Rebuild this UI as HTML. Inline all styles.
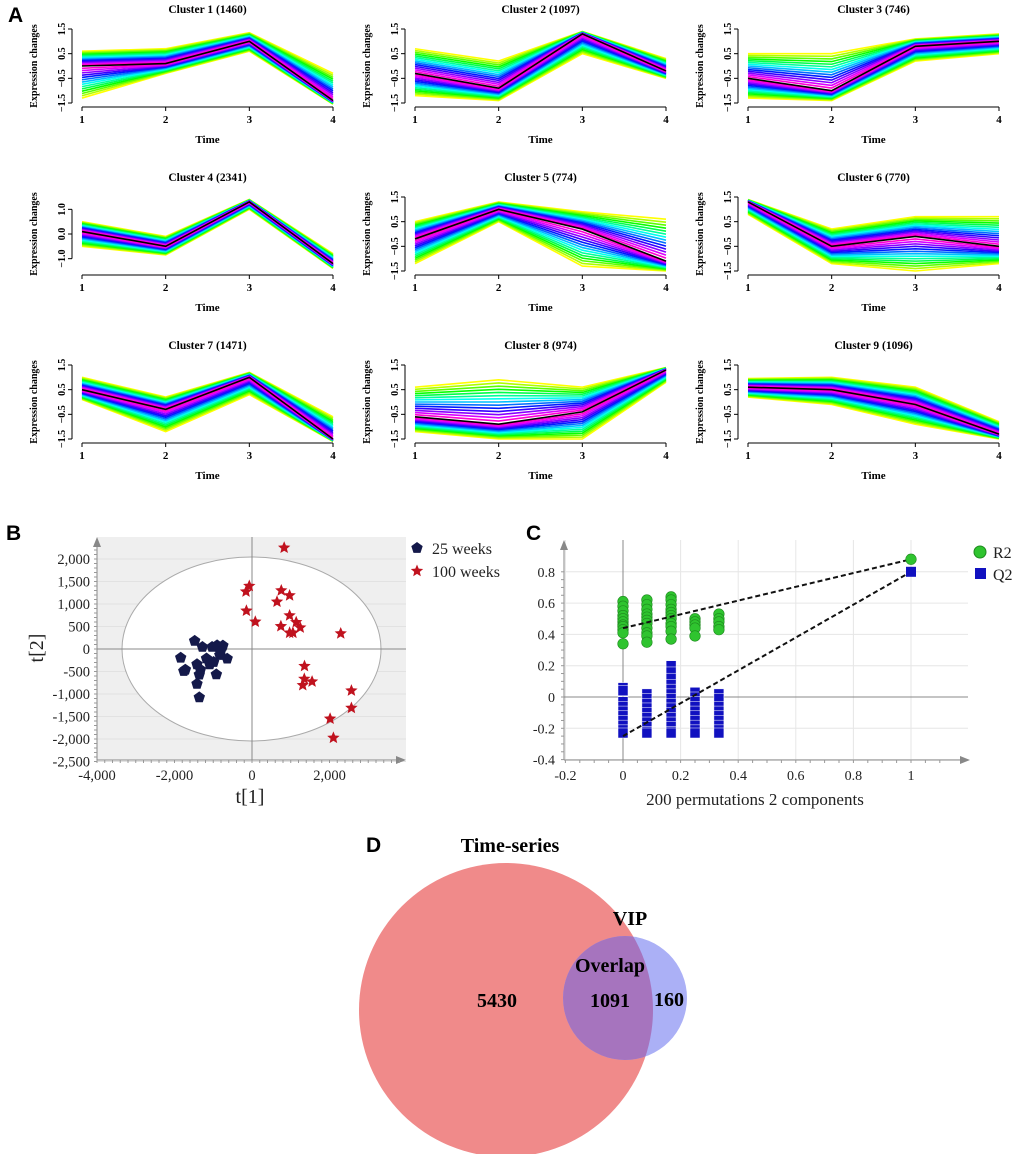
<!DOCTYPE html>
<html><head><meta charset="utf-8"><style>
body{margin:0;background:#fff}
svg{display:block;font-family:"Liberation Serif",serif}
.lab{font-family:"Liberation Sans",sans-serif;font-weight:bold;font-size:21px}
</style></head><body>
<svg id="fig" width="1020" height="1154" viewBox="0 0 1020 1154" xmlns="http://www.w3.org/2000/svg">
<text class="lab" x="8" y="22">A</text>
<text class="lab" x="6" y="540">B</text>
<text class="lab" x="526" y="540">C</text>
<text class="lab" x="366" y="852">D</text>
<g id="pa"></g>
<g id="pb"></g>
<g id="pc"></g>
<g id="pd">
<defs><clipPath id="bigc"><circle cx="506" cy="1010" r="147"/></clipPath></defs>
<circle cx="506" cy="1010" r="147" fill="#f08a8a"/>
<circle cx="625" cy="998" r="62" fill="#abb0f6"/>
<circle cx="625" cy="998" r="62" fill="#a674be" clip-path="url(#bigc)"/>
<g font-weight="bold" font-size="20" text-anchor="middle">
<text x="510" y="852">Time-series</text>
<text x="630" y="925">VIP</text>
<text x="610" y="972">Overlap</text>
<text x="497" y="1007">5430</text>
<text x="610" y="1007">1091</text>
<text x="669" y="1006">160</text>
</g></g>
</svg>
<script>
const NS="http://www.w3.org/2000/svg";
function mk(p,t,a){const e=document.createElementNS(NS,t);for(const k in a)e.setAttribute(k,a[k]);p.appendChild(e);return e;}
// ---------- Panel A data ----------
const clusterTitles=["Cluster 1 (1460)","Cluster 2 (1097)","Cluster 3 (746)","Cluster 4 (2341)","Cluster 5 (774)","Cluster 6 (770)","Cluster 7 (1471)","Cluster 8 (974)","Cluster 9 (1096)"];
const clusterCenter=[[0,0.1,1.0,-1.4],[-0.3,-0.9,1.3,-0.2],[-0.5,-1.0,0.8,1.0],[0.1,-0.5,1.3,-1.2],[-0.2,1.0,0.2,-1.1],[1.3,-0.5,-0.1,-0.5],[0.5,-0.3,1.0,-1.5],[-0.6,-0.9,-0.4,1.3],[0.6,0.5,-0.1,-1.3]];
const clusterUpper=[[0.6,0.7,1.35,-0.3],[0.7,0.2,1.4,0.3],[0.5,0.5,1.1,1.3],[0.5,-0.1,1.4,-0.8],[0.5,1.3,0.9,0.6],[1.4,0.2,0.7,0.7],[1.0,0.2,1.2,-0.6],[0.6,0.9,0.6,1.4],[0.95,1.0,0.6,-0.8]];
const clusterLower=[[-1.3,-0.3,0.6,-1.55],[-1.2,-1.4,0.5,-0.5],[-1.3,-1.4,0.2,0.5],[-0.5,-0.85,1.0,-1.4],[-1.2,0.5,-1.3,-1.5],[0.8,-1.2,-1.5,-1.2],[0.1,-1.2,0.3,-1.6],[-1.2,-1.5,-1.5,0.8],[0.2,-0.1,-0.9,-1.5]];
const timeTicks=[1,2,3,4];
const yTicksStd=[1.5,0.5,-0.5,-1.5];
const yTicksC4=[1.0,0.0,-1.0];
const pa=document.getElementById('pa');
clusterTitles.forEach((title,i)=>{
  const c=i%3,r=Math.floor(i/3);
  const x1=82+c*333,x4=x1+251,yt=29+r*168,yb=103+r*168;
  const X=t=>x1+(t-1)*(x4-x1)/3;
  const Y=v=>yt+(1.5-v)*(yb-yt)/3;
  const g=mk(pa,'g',{});
  
  
  const tt=mk(g,'text',{x:(x1+x4)/2,y:yt-16,'text-anchor':'middle','font-weight':'bold','font-size':'11.5'});
  tt.textContent=title;
  
  
  const N=14;
  const sides=[clusterUpper[i],clusterLower[i]];
  for(let k=N;k>=1;k--){
    const f=k/N;
    const hue=60+(1-f)*270;
    sides.forEach(s=>{
      const pts=timeTicks.map((t,j)=>X(t)+','+Y(clusterCenter[i][j]+f*(s[j]-clusterCenter[i][j]))).join(' ');
      const pl=mk(g,'polyline',{points:pts,fill:'none',stroke:'hsl('+hue+',100%,50%)','stroke-width':'1.6'});
      
      
    });
  }
  const cl=mk(g,'polyline',{points:timeTicks.map((t,j)=>X(t)+','+Y(clusterCenter[i][j])).join(' '),fill:'none',stroke:'#000','stroke-width':'1.6'});
  
  
  // axes
  const ya=x1-10;
  const ticks=i===3?yTicksC4:yTicksStd;
  const yl=mk(g,'line',{x1:ya,x2:ya,y1:Y(ticks[0]),y2:Y(ticks[ticks.length-1]),stroke:'#000'});
  
  
  ticks.forEach(v=>{
    mk(g,'line',{x1:ya-4,x2:ya,y1:Y(v),y2:Y(v),stroke:'#000'});
    const tl=mk(g,'text',{x:0,y:0,transform:'translate('+(ya-7)+','+Y(v)+') rotate(-90)','text-anchor':'middle','font-weight':'bold','font-size':'10'});
    tl.textContent=v.toFixed(1).replace('-','\u2212');
    
    
  });
  const xa=yb+4;
  const xl=mk(g,'line',{x1:x1,x2:x4,y1:xa,y2:xa,stroke:'#000'});
  
  
  timeTicks.forEach(t=>{
    mk(g,'line',{x1:X(t),x2:X(t),y1:xa,y2:xa+4,stroke:'#000'});
    const tl=mk(g,'text',{x:X(t),y:xa+16,'text-anchor':'middle','font-weight':'bold','font-size':'11'});
    tl.textContent=t;
    
    
  });
  const xt=mk(g,'text',{x:(x1+x4)/2,y:xa+36,'text-anchor':'middle','font-weight':'bold','font-size':'11'});
  xt.textContent='Time';
  
  
  const yT=mk(g,'text',{x:0,y:0,transform:'translate('+(x1-45)+','+((yt+yb)/2)+') rotate(-90)','text-anchor':'middle','font-weight':'bold','font-size':'10'});
  yT.textContent='Expression changes';
  
  
});
// ---------- Panel B data ----------
const weeks25T1=[-1480,-1280,-1840,-1760,-1720,-1420,-1330,-1360,-1420,-1360,-1175,-1090,-1030,-900,-750,-830,-640,-920,-990,-815];
const weeks25T2=[180,45,-195,-490,-460,-340,-460,-570,-775,-1075,-210,-340,45,80,75,-135,-215,-565,-290,-65];
const weeks100T1=[830,-70,-155,-145,85,755,970,645,970,745,1140,1245,970,1055,2290,1355,1350,1550,1310,2565,2565,2015,2100];
const weeks100T2=[2250,1400,1275,850,605,1300,1190,1050,745,505,595,475,360,360,345,-380,-665,-725,-805,-925,-1310,-1550,-1975];
const bXTicks=[-4000,-2000,0,2000];
const bYTicks=[2000,1500,1000,500,0,-500,-1000,-1500,-2000,-2500];
const pb=document.getElementById('pb');
const BX=v=>252+v*0.03875, BY=v=>649-v*0.045;
mk(pb,'rect',{x:97,y:537,width:309,height:223,fill:'#efefef'});
bYTicks.forEach(v=>mk(pb,'line',{x1:97,x2:406,y1:BY(v),y2:BY(v),stroke:'#e2e2e2'}));
const el=mk(pb,'ellipse',{cx:251.5,cy:649,rx:129.5,ry:92,fill:'#fff',stroke:'#aaa'});


mk(pb,'line',{x1:97,x2:406,y1:BY(0),y2:BY(0),stroke:'#888'});
mk(pb,'line',{x1:BX(0),x2:BX(0),y1:537,y2:760,stroke:'#888'});
mk(pb,'line',{x1:97,x2:400,y1:760,y2:760,stroke:'#888'});
mk(pb,'line',{x1:97,x2:97,y1:545,y2:760,stroke:'#888'});
mk(pb,'polygon',{points:'406,760 396,756 396,764',fill:'#888'});
mk(pb,'polygon',{points:'97,537 93,547 101,547',fill:'#888'});
for(let v=-2500;v<=2200;v+=100)mk(pb,'line',{x1:94,x2:97,y1:BY(v),y2:BY(v),stroke:'#999'});
for(let v=-4000;v<=3800;v+=200)mk(pb,'line',{x1:BX(v),x2:BX(v),y1:760,y2:763,stroke:'#999'});
bYTicks.forEach(v=>{const t=mk(pb,'text',{x:90,y:BY(v)+5,'text-anchor':'end','font-size':'14.5',fill:'#222'});t.textContent=v.toLocaleString('en-US');
 
 });
bXTicks.forEach(v=>{const t=mk(pb,'text',{x:BX(v),y:780,'text-anchor':'middle','font-size':'14.5',fill:'#222'});t.textContent=v.toLocaleString('en-US');
 
 });
let t1=mk(pb,'text',{x:250,y:803,'text-anchor':'middle','font-size':'20',fill:'#222'});t1.textContent='t[1]';


let t2=mk(pb,'text',{x:0,y:0,transform:'translate(43,648) rotate(-90)','text-anchor':'middle','font-size':'20',fill:'#222'});t2.textContent='t[2]';


function pent(cx,cy,r){let p=[];for(let k=0;k<5;k++){const a=-Math.PI/2+k*2*Math.PI/5;p.push((cx+r*Math.cos(a)).toFixed(1)+','+(cy+r*Math.sin(a)).toFixed(1));}return p.join(' ');}
function star(cx,cy,r){let p=[];for(let k=0;k<10;k++){const a=-Math.PI/2+k*Math.PI/5,rr=k%2?r*0.45:r;p.push((cx+rr*Math.cos(a)).toFixed(1)+','+(cy+rr*Math.sin(a)).toFixed(1));}return p.join(' ');}
weeks25T1.forEach((v,i)=>{const p=mk(pb,'polygon',{points:pent(BX(v),BY(weeks25T2[i]),6),fill:'#14194a'});
 
 });
weeks100T1.forEach((v,i)=>{const p=mk(pb,'polygon',{points:star(BX(v),BY(weeks100T2[i]),6.5),fill:'#c0121e'});
 
 });
let lg=mk(pb,'polygon',{points:pent(417,548,6),fill:'#14194a'});


lg=mk(pb,'polygon',{points:star(417,571,6.5),fill:'#c0121e'});


let lt=mk(pb,'text',{x:432,y:554,'font-size':'16',fill:'#222'});lt.textContent='25 weeks';


lt=mk(pb,'text',{x:432,y:577,'font-size':'16',fill:'#222'});lt.textContent='100 weeks';


// ---------- Panel C data ----------
const permX=[0,0.083,0.167,0.25,0.333];
const r2Values=[[0.61,0.58,0.55,0.52,0.5,0.48,0.46,0.45,0.43,0.41,0.34],[0.62,0.59,0.56,0.53,0.51,0.49,0.47,0.44,0.41,0.39,0.35],[0.64,0.62,0.59,0.56,0.54,0.52,0.5,0.47,0.45,0.42,0.37],[0.5,0.48,0.46,0.44,0.39],[0.53,0.5,0.48,0.45,0.43]];
const q2Values=[[0.06,0.04,-0.03,-0.06,-0.09,-0.12,-0.15,-0.18,-0.21,-0.23],[0.02,-0.01,-0.04,-0.07,-0.1,-0.13,-0.16,-0.19,-0.22,-0.23],[0.2,0.16,0.12,0.08,0.05,0.02,-0.01,-0.04,-0.07,-0.1,-0.13,-0.16,-0.19,-0.22,-0.23],[0.03,0,-0.03,-0.06,-0.09,-0.12,-0.15,-0.18,-0.21,-0.23],[0.02,-0.01,-0.06,-0.09,-0.12,-0.15,-0.18,-0.21,-0.23]];
const r2Orig=0.88, q2Orig=0.80;
const r2Intercept=0.44, q2Intercept=-0.25;
const cXTicks=[-0.2,0,0.2,0.4,0.6,0.8,1];
const cYTicks=[0.8,0.6,0.4,0.2,0,-0.2,-0.4];
const pc=document.getElementById('pc');
const CX=v=>623+v*288, CY=v=>697-v*156.5;
cYTicks.forEach(v=>mk(pc,'line',{x1:564,x2:968,y1:CY(v),y2:CY(v),stroke:'#e6e6e6'}));
cXTicks.forEach(v=>mk(pc,'line',{x1:CX(v),x2:CX(v),y1:540,y2:760,stroke:'#e6e6e6'}));
mk(pc,'line',{x1:CX(0),x2:CX(0),y1:540,y2:760,stroke:'#888'});
mk(pc,'line',{x1:564,x2:968,y1:CY(0),y2:CY(0),stroke:'#888'});
mk(pc,'line',{x1:564,x2:962,y1:760,y2:760,stroke:'#888'});
mk(pc,'line',{x1:564,x2:564,y1:548,y2:760,stroke:'#888'});
mk(pc,'polygon',{points:'970,760 960,756 960,764',fill:'#888'});
mk(pc,'polygon',{points:'564,540 560,550 568,550',fill:'#888'});
for(let v=-0.4;v<=0.85;v+=0.05)mk(pc,'line',{x1:561,x2:564,y1:CY(v),y2:CY(v),stroke:'#999'});
for(let v=-0.2;v<=1.15;v+=0.05)mk(pc,'line',{x1:CX(v),x2:CX(v),y1:760,y2:763,stroke:'#999'});
cYTicks.forEach(v=>{const t=mk(pc,'text',{x:555,y:CY(v)+5,'text-anchor':'end','font-size':'14',fill:'#222'});t.textContent=String(v);
 
 });
cXTicks.forEach(v=>{const t=mk(pc,'text',{x:CX(v),y:780,'text-anchor':'middle','font-size':'14',fill:'#222'});t.textContent=String(v);
 
 });
let ct=mk(pc,'text',{x:755,y:805,'text-anchor':'middle','font-size':'17',fill:'#222'});ct.textContent='200 permutations 2 components';


permX.forEach((x,i)=>{
  r2Values[i].forEach(v=>{const c=mk(pc,'circle',{cx:CX(x),cy:CY(v),r:5.3,fill:'#2fc42f',stroke:'#1e8a1e','stroke-width':'0.6'});
   
   });
  q2Values[i].forEach(v=>{const s=mk(pc,'rect',{x:CX(x)-5,y:CY(v)-5,width:10,height:10,fill:'#1111c0',stroke:'#fff','stroke-width':'0.5'});
   
   });
});
let rl=mk(pc,'line',{x1:CX(0),y1:CY(r2Intercept),x2:CX(1),y2:CY(r2Orig),stroke:'#111','stroke-width':'2','stroke-dasharray':'5,3'});


rl=mk(pc,'line',{x1:CX(0),y1:CY(q2Intercept),x2:CX(1),y2:CY(q2Orig),stroke:'#111','stroke-width':'2','stroke-dasharray':'5,3'});


let oc=mk(pc,'circle',{cx:CX(1),cy:CY(r2Orig),r:5.3,fill:'#2fc42f',stroke:'#1e8a1e','stroke-width':'0.6'});


oc=mk(pc,'rect',{x:CX(1)-5,y:CY(q2Orig)-5,width:10,height:10,fill:'#1111c0'});


let cl2=mk(pc,'circle',{cx:980,cy:552,r:6,fill:'#2fc42f',stroke:'#1e8a1e'});


cl2=mk(pc,'rect',{x:975,y:568,width:11,height:11,fill:'#1111c0'});


let ltx=mk(pc,'text',{x:993,y:558,'font-size':'16',fill:'#222'});ltx.textContent='R2';


ltx=mk(pc,'text',{x:993,y:580,'font-size':'16',fill:'#222'});ltx.textContent='Q2';


</script>
</body></html>
